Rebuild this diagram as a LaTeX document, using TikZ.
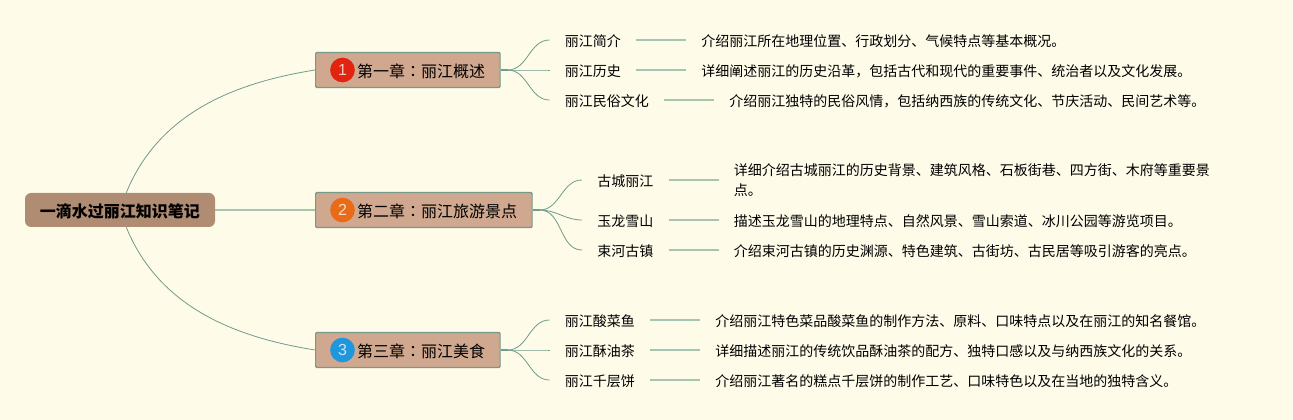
\documentclass[tikz,border=0pt]{standalone}
\usepackage{fontspec}
\setmainfont{Noto Sans CJK SC}
\setsansfont{Liberation Sans}
\newfontfamily\colonfont{Noto Sans CJK TC}
\usetikzlibrary{positioning}
\definecolor{paper}{HTML}{FEFBE9}
\definecolor{rootfill}{HTML}{B08C73}
\definecolor{chapfill}{HTML}{CFA88F}
\definecolor{chapline}{HTML}{76998A}
\definecolor{thinline}{HTML}{6F9C8C}
\definecolor{thickline}{HTML}{A5C5B0}
\definecolor{markred}{HTML}{E2230F}
\definecolor{markorange}{HTML}{E96B17}
\definecolor{markblue}{HTML}{1F97DD}
\begin{document}
\begin{tikzpicture}[
  x=0.75pt, y=-0.75pt,
  rootnode/.style={fill=rootfill, rounded corners=4.5pt, minimum width=142.5pt, minimum height=25.5pt, inner sep=0pt, text height=12.1pt, text depth=1.5pt, font=\fontsize{12}{15}\selectfont\bfseries},
  chapter/.style={draw=chapline, line width=0.9pt, fill=chapfill, rounded corners=0.8pt, anchor=west, minimum height=26.25pt, inner xsep=11.25pt, inner ysep=0pt, text height=12.1pt, text depth=1.5pt, font=\fontsize{12}{15}\selectfont},
  badge/.style={circle, minimum size=18.5pt, inner sep=0pt, font=\sffamily\fontsize{12}{14}\selectfont},
  topic/.style={anchor=west, inner xsep=11.25pt, inner ysep=0pt, text height=11pt, text depth=1.5pt, font=\fontsize{10.5}{15}\selectfont},
  detail/.style={right=37.5pt of #1, inner xsep=11.25pt, inner ysep=0pt, align=left, execute at begin node=\rule{0pt}{11pt}, font=\fontsize{10.5}{15}\selectfont},
  thin link/.style={draw=thinline, line width=0.6pt},
  thick link/.style={draw=thickline, line width=1.3pt}
]
\fill[paper] (0,0) rectangle (1293,420);
\node[rootnode] (root) at (120,210) {一滴水过丽江知识笔记};
% chapters
\foreach \c/\y/\col/\word/\rest in {1/70/markred/第一章/丽江概述,2/210/markorange/第二章/丽江旅游景点,3/350/markblue/第三章/丽江美食} {
  \node[chapter] (chap\c) at (315,\y) {\hspace*{19.9pt}\word{\colonfont ：}\rest};
  \node[badge, fill=\col, text=\col!25!white] (mark\c) at (342.5,\y) {\c};
}
\draw[thin link] (root.70) .. controls (160,110) and (240,82) .. (chap1.west);
\draw[thin link] (root.-70) .. controls (160,310) and (240,338) .. (chap3.west);
\draw[thick link] (root.east) -- (chap2.west);
% topics and their details
\foreach \c/\r/\x/\y/\name/\info in {
  1/1/549.5/40/丽江简介/介绍丽江所在地理位置、行政划分、气候特点等基本概况。,
  1/2/549.5/70/丽江历史/详细阐述丽江的历史沿革，包括古代和现代的重要事件、统治者以及文化发展。,
  1/3/549.5/100/丽江民俗文化/介绍丽江独特的民俗风情，包括纳西族的传统文化、节庆活动、民间艺术等。,
  2/1/582/180/古城丽江/{详细介绍古城丽江的历史背景、建筑风格、石板街巷、四方街、木府等重要景\\点。},
  2/2/582/220/玉龙雪山/描述玉龙雪山的地理特点、自然风景、雪山索道、冰川公园等游览项目。,
  2/3/582/250/束河古镇/介绍束河古镇的历史渊源、特色建筑、古街坊、古民居等吸引游客的亮点。,
  3/1/549.5/320/丽江酸菜鱼/介绍丽江特色菜品酸菜鱼的制作方法、原料、口味特点以及在丽江的知名餐馆。,
  3/2/549.5/350/丽江酥油茶/详细描述丽江的传统饮品酥油茶的配方、独特口感以及与纳西族文化的关系。,
  3/3/549.5/380/丽江千层饼/介绍丽江著名的糕点千层饼的制作工艺、口味特色以及在当地的独特含义。} {
  \node[topic] (topic\c\r) at (\x,\y) {\name};
  \node[detail=topic\c\r] (info\c\r) {\info};
  \coordinate (fork\c\r) at ([xshift=5.25pt]chap\c.east);
  \draw[thick link, draw=thinline] (chap\c.east) -- (fork\c\r);
  \draw[thin link] (fork\c\r) to[out=0, in=180, looseness=1] (topic\c\r.west);
  \draw[thick link] (topic\c\r) -- (info\c\r);
}
\end{tikzpicture}
\end{document}
